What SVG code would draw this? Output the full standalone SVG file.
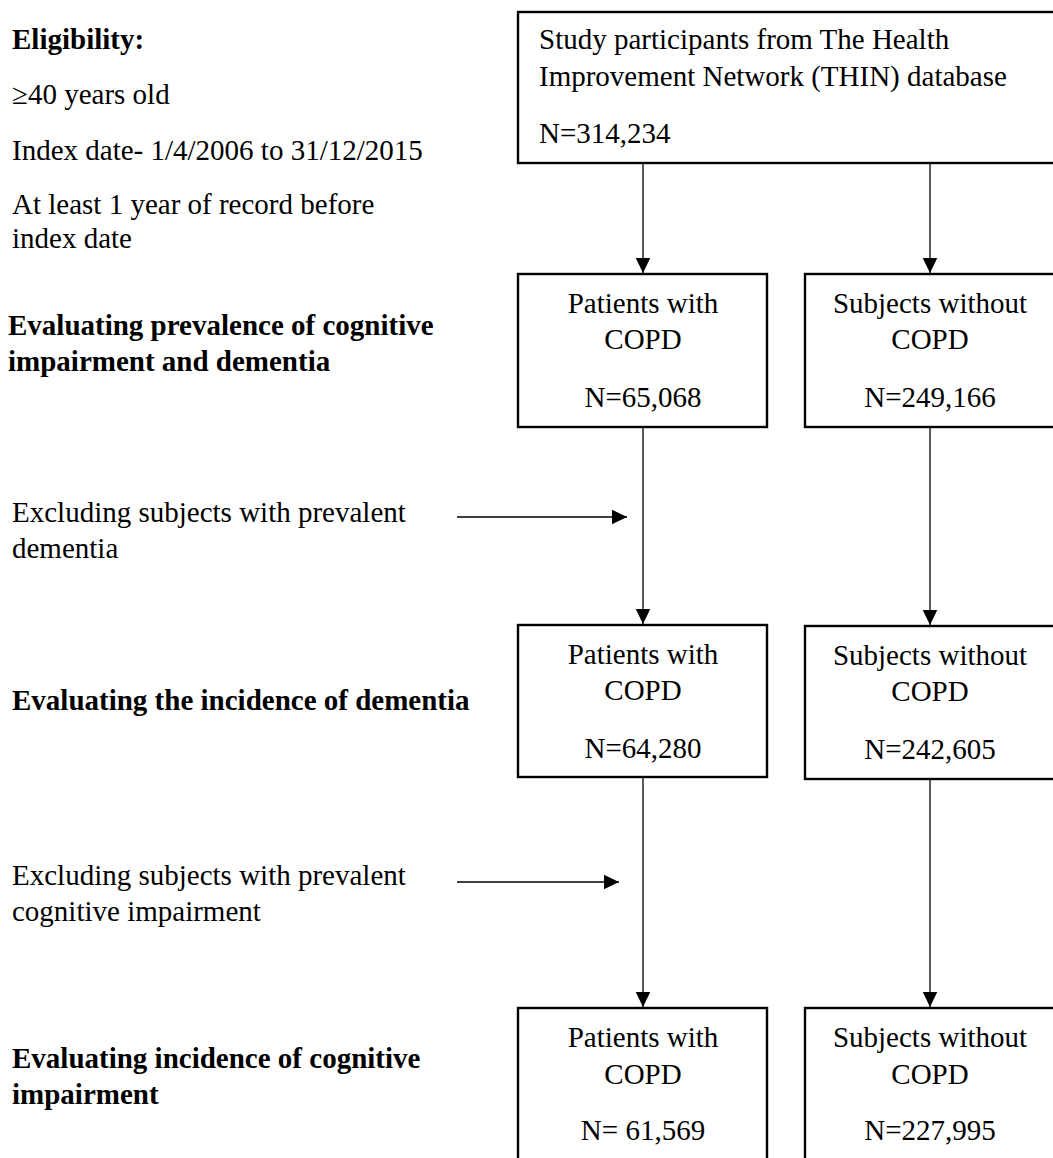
<svg xmlns="http://www.w3.org/2000/svg" width="1053" height="1158" viewBox="0 0 1053 1158">
<style>
  text { font-family: "Liberation Serif", "Times New Roman", serif; font-size: 29px; fill: #000; }
  .b { font-weight: bold; }
  .c { text-anchor: middle; }
  .box { fill: #fff; stroke: #000; stroke-width: 2.4; }
  .conn { stroke: #000; stroke-width: 1.3; fill: none; marker-end: url(#arr); }
</style>
<defs>
  <marker id="arr" markerUnits="userSpaceOnUse" markerWidth="16" markerHeight="16" refX="15.5" refY="7.5" orient="auto">
    <path d="M0,0 L15.5,7.5 L0,15 z" fill="#000"/>
  </marker>
</defs>
<rect width="1053" height="1158" fill="#fff"/>

<g id="labels">
  <text class="b" x="12" y="49">Eligibility:</text>
  <text x="12" y="104">≥40 years old</text>
  <text x="12" y="160">Index date- 1/4/2006 to 31/12/2015</text>
  <text x="12" y="214">At least 1 year of record before</text>
  <text x="12" y="248">index date</text>
  <text class="b" x="8" y="335">Evaluating prevalence of cognitive</text>
  <text class="b" x="8" y="371">impairment and dementia</text>
  <text x="12" y="522">Excluding subjects with prevalent</text>
  <text x="12" y="558">dementia</text>
  <text class="b" x="12" y="710">Evaluating the incidence of dementia</text>
  <text x="12" y="885">Excluding subjects with prevalent</text>
  <text x="12" y="921">cognitive impairment</text>
  <text class="b" x="12" y="1068">Evaluating incidence of cognitive</text>
  <text class="b" x="12" y="1104">impairment</text>
</g>

<g id="connectors">
  <line class="conn" x1="643" y1="164" x2="643" y2="273"/>
  <line class="conn" x1="930" y1="164" x2="930" y2="273"/>
  <line class="conn" x1="643" y1="428" x2="643" y2="624"/>
  <line class="conn" x1="930" y1="428" x2="930" y2="625"/>
  <line class="conn" x1="643" y1="778" x2="643" y2="1007"/>
  <line class="conn" x1="930" y1="780" x2="930" y2="1007"/>
  <line class="conn" x1="457" y1="517" x2="627" y2="517"/>
  <line class="conn" x1="457" y1="882" x2="619" y2="882"/>
</g>

<g id="n-thin">
  <rect class="box" x="518" y="12" width="545" height="151"/>
  <text x="539" y="49">Study participants from The Health</text>
  <text x="539" y="86">Improvement Network (THIN) database</text>
  <text x="539" y="143">N=314,234</text>
</g>

<g id="n-copd1">
  <rect class="box" x="518" y="274" width="249" height="153"/>
  <text class="c" x="643" y="313">Patients with</text>
  <text class="c" x="643" y="349">COPD</text>
  <text class="c" x="643" y="407">N=65,068</text>
</g>
<g id="n-nocopd1">
  <rect class="box" x="805" y="274" width="260" height="153"/>
  <text class="c" x="930" y="313">Subjects without</text>
  <text class="c" x="930" y="349">COPD</text>
  <text class="c" x="930" y="407">N=249,166</text>
</g>

<g id="n-copd2">
  <rect class="box" x="518" y="625" width="249" height="152"/>
  <text class="c" x="643" y="664">Patients with</text>
  <text class="c" x="643" y="700">COPD</text>
  <text class="c" x="643" y="758">N=64,280</text>
</g>
<g id="n-nocopd2">
  <rect class="box" x="805" y="626" width="260" height="153"/>
  <text class="c" x="930" y="665">Subjects without</text>
  <text class="c" x="930" y="701">COPD</text>
  <text class="c" x="930" y="759">N=242,605</text>
</g>

<g id="n-copd3">
  <rect class="box" x="518" y="1008" width="249" height="170"/>
  <text class="c" x="643" y="1047">Patients with</text>
  <text class="c" x="643" y="1084">COPD</text>
  <text class="c" x="643" y="1140">N= 61,569</text>
</g>
<g id="n-nocopd3">
  <rect class="box" x="805" y="1008" width="260" height="170"/>
  <text class="c" x="930" y="1047">Subjects without</text>
  <text class="c" x="930" y="1084">COPD</text>
  <text class="c" x="930" y="1140">N=227,995</text>
</g>
</svg>
